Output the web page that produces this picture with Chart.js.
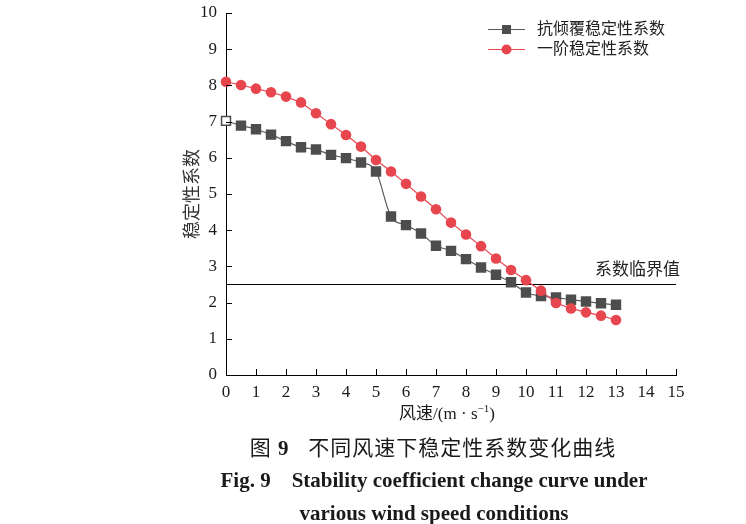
<!DOCTYPE html>
<html>
<head>
<meta charset="UTF-8">
<title>稳定性系数</title>
<script src="https://cdn.jsdelivr.net/npm/chart.js@4/dist/chart.umd.min.js"></script>
<style>
  body { margin: 0; background: #fff; }
  #wrap { position: relative; width: 746px; height: 524px; font-family: "Liberation Serif", "Noto Sans CJK SC", serif; color: #1a1a1a; }
  #grafica { position: absolute; left: 0; top: 0; }
  .txt { position: absolute; white-space: nowrap; transform: translate(-50%, -50%); }
</style>
</head>
<body>
<div id="wrap">
  <canvas id="grafica" width="746" height="524"></canvas>
  <div class="txt" style="left:190px; top:194px; transform:translate(-50%,-50%) rotate(-90deg); font-size:18px; color:#333;">稳定性系数</div>
  <div class="txt" style="left:447px; top:411px; font-size:17px;">风速/(m · s<sup style="font-size:11px">−1</sup>)</div>
  <div class="txt" style="left:433px; top:446px; font-size:21px; letter-spacing:1px;">图 <b>9</b>&nbsp;&nbsp;&nbsp;不同风速下稳定性系数变化曲线</div>
  <div class="txt" style="left:434px; top:480px; font-size:21px; font-weight:bold;">Fig. 9&nbsp;&nbsp;&nbsp;&nbsp;Stability coefficient change curve under</div>
  <div class="txt" style="left:434px; top:513px; font-size:21px; font-weight:bold;">various wind speed conditions</div>
</div>
<script>
// wind speed (m/s)
var speeds = [0, 0.5, 1, 1.5, 2, 2.5, 3, 3.5, 4, 4.5, 5, 5.5, 6, 6.5, 7, 7.5, 8, 8.5, 9, 9.5, 10, 10.5, 11, 11.5, 12, 12.5, 13];
// anti-overturning stability coefficient
var antiVuelco = [7.02, 6.89, 6.79, 6.64, 6.46, 6.29, 6.23, 6.08, 5.99, 5.87, 5.62, 4.38, 4.14, 3.91, 3.57, 3.43, 3.20, 2.97, 2.77, 2.56, 2.28, 2.18, 2.14, 2.08, 2.03, 1.98, 1.94];
// first-order stability coefficient
var primerOrden = [8.10, 8.01, 7.91, 7.81, 7.69, 7.53, 7.23, 6.93, 6.63, 6.31, 5.94, 5.62, 5.28, 4.93, 4.58, 4.21, 3.88, 3.56, 3.22, 2.90, 2.62, 2.33, 1.99, 1.84, 1.73, 1.64, 1.52];
var etiquetas = ["抗倾覆稳定性系数", "一阶稳定性系数"];
var critico = 2.5;
var criticoLabel = "系数临界值";
var xTicks = [0, 1, 2, 3, 4, 5, 6, 7, 8, 9, 10, 11, 12, 13, 14, 15];
var yTicks = [0, 1, 2, 3, 4, 5, 6, 7, 8, 9, 10];

var gris = "#4d4d4d";
var rojo = "#e8464e";
var fuente = '"Liberation Serif", "Noto Sans CJK SC", serif';

function puntos(ys) {
  return speeds.map(function (s, k) { return { x: s, y: ys[k] }; });
}

// first square looks hollow in the original
var fondoGris = speeds.map(function (s, k) { return k === 0 ? "#fff" : gris; });

var extras = {
  id: "extras",
  afterDraw: function (chart) {
    var ctx = chart.ctx;
    var xs = chart.scales.x, ys = chart.scales.y;
    ctx.save();
    // inner ticks
    ctx.strokeStyle = "#000";
    ctx.lineWidth = 1;
    ctx.beginPath();
    xTicks.forEach(function (v) {
      var px = Math.round(xs.getPixelForValue(v)) + 0.5;
      ctx.moveTo(px, ys.bottom);
      ctx.lineTo(px, ys.bottom - 6);
    });
    yTicks.forEach(function (v) {
      var py = Math.round(ys.getPixelForValue(v)) + 0.5;
      ctx.moveTo(xs.left, py);
      ctx.lineTo(xs.left + 6, py);
    });
    ctx.stroke();
    // critical line label
    ctx.fillStyle = "#222";
    ctx.font = "17px " + fuente;
    ctx.textAlign = "right";
    ctx.textBaseline = "bottom";
    ctx.fillText(criticoLabel, xs.getPixelForValue(15) + 4, ys.getPixelForValue(critico) - 5);
    // legend
    var lx = 488, ly = 29;
    chart.data.datasets.slice(0, 2).forEach(function (ds, k) {
      var y = ly + k * 20;
      ctx.strokeStyle = ds.borderColor;
      ctx.lineWidth = 1;
      ctx.beginPath();
      ctx.moveTo(lx, y + 0.5);
      ctx.lineTo(lx + 37, y + 0.5);
      ctx.stroke();
      ctx.fillStyle = ds.pointBorderColor;
      if (ds.pointStyle === "rect") {
        ctx.fillRect(lx + 14, y - 4, 9, 9);
      } else {
        ctx.beginPath();
        ctx.arc(lx + 18.5, y + 0.5, 5, 0, Math.PI * 2);
        ctx.fill();
      }
      ctx.fillStyle = "#222";
      ctx.font = "16px " + fuente;
      ctx.textAlign = "left";
      ctx.textBaseline = "middle";
      ctx.fillText(etiquetas[k], lx + 49, y + 1);
    });
    ctx.restore();
  }
};

var miCanvas = document.getElementById("grafica").getContext("2d");
var chart = new Chart(miCanvas, {
  type: "line",
  data: {
    datasets: [
      {
        label: etiquetas[0],
        data: puntos(antiVuelco),
        borderColor: "#5a5a5a",
        borderWidth: 1.2,
        pointStyle: "rect",
        pointRadius: 6.3,
        pointBackgroundColor: fondoGris,
        pointBorderColor: gris,
        pointBorderWidth: 1.5,
        cubicInterpolationMode: "monotone",
        clip: false,
        order: 2
      },
      {
        label: etiquetas[1],
        data: puntos(primerOrden),
        borderColor: rojo,
        borderWidth: 1.2,
        pointStyle: "circle",
        pointRadius: 5.3,
        pointBackgroundColor: rojo,
        pointBorderColor: rojo,
        pointBorderWidth: 0,
        tension: 0,
        clip: false,
        order: 1
      },
      {
        label: criticoLabel,
        data: [{ x: 0, y: critico }, { x: 15, y: critico }],
        borderColor: "#000",
        borderWidth: 1,
        pointRadius: 0,
        order: 3
      }
    ]
  },
  options: {
    responsive: false,
    animation: false,
    layout: { padding: { left: 0, right: 70, top: 13, bottom: 0 } },
    plugins: { legend: { display: false }, tooltip: { enabled: false } },
    scales: {
      x: {
        type: "linear",
        min: 0,
        max: 15,
        afterBuildTicks: function (s) { s.ticks = xTicks.map(function (v) { return { value: v }; }); },
        afterFit: function (s) { s.height = 149; s.paddingLeft = 0; s.paddingRight = 0; },
        grid: { display: true, drawOnChartArea: false, drawTicks: false },
        border: { display: true, color: "#000", width: 1 },
        ticks: { padding: 7, color: "#1a1a1a", font: { family: fuente, size: 17 }, maxRotation: 0, autoSkip: false }
      },
      y: {
        min: 0,
        max: 10,
        afterBuildTicks: function (s) { s.ticks = yTicks.map(function (v) { return { value: v }; }); },
        afterFit: function (s) { s.width = 226; s.paddingTop = 0; s.paddingBottom = 0; },
        grid: { display: true, drawOnChartArea: false, drawTicks: false },
        border: { display: true, color: "#000", width: 1 },
        ticks: { padding: 9, color: "#1a1a1a", font: { family: fuente, size: 17 } }
      }
    }
  },
  plugins: [extras]
});
</script>
</body>
</html>
